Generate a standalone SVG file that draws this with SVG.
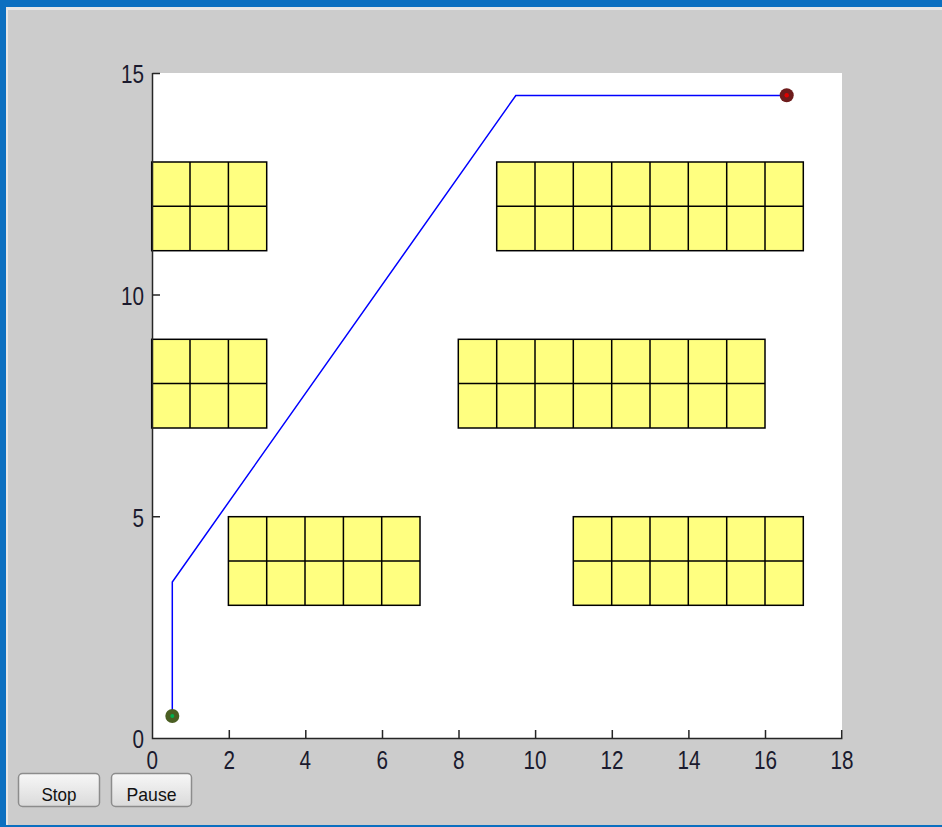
<svg xmlns="http://www.w3.org/2000/svg" width="942" height="827" viewBox="0 0 942 827">
<style>
.cell{fill:#ffff80;stroke:#000;stroke-width:1.5}
.grid{stroke:#000;stroke-width:1.5;fill:none}
.axis{stroke:#262626;stroke-width:1.5;fill:none}
.lbl{font-family:"Liberation Sans",Arial,sans-serif;font-size:26px;fill:#1a1a2e}
.btn{fill:url(#bg);stroke:#8c8c8c;stroke-width:1.5}
.btxt{font-family:"Liberation Sans",Arial,sans-serif;font-size:19px;fill:#111;text-anchor:middle}
</style>
<defs>
<linearGradient id="bg" x1="0" y1="0" x2="0" y2="1">
<stop offset="0" stop-color="#f7f7f7"/>
<stop offset="1" stop-color="#dadada"/>
</linearGradient>
</defs>
<rect x="0" y="0" width="942" height="827" fill="#0b6fc0"/>
<rect x="6" y="7" width="936" height="818" fill="#e6e6e6"/>
<rect x="8" y="10" width="934" height="815" fill="#cccccc"/>
<rect x="152" y="73" width="690" height="665" fill="#ffffff"/>

<g id="block1">
<rect class="cell" x="151.7" y="162" width="115" height="88.7"/>
<path class="grid" d="M190 162V250.7M228.4 162V250.7M151.7 206.3H266.7"/>
</g>
<g id="block2">
<rect class="cell" x="496.7" y="162" width="306.6" height="88.7"/>
<path class="grid" d="M535 162V250.7M573.3 162V250.7M611.7 162V250.7M650 162V250.7M688.3 162V250.7M726.7 162V250.7M765 162V250.7M496.7 206.3H803.3"/>
</g>
<g id="block3">
<rect class="cell" x="151.7" y="339.3" width="115" height="88.7"/>
<path class="grid" d="M190 339.3V428M228.4 339.3V428M151.7 383.6H266.7"/>
</g>
<g id="block4">
<rect class="cell" x="458.3" y="339.3" width="306.7" height="88.7"/>
<path class="grid" d="M496.7 339.3V428M535 339.3V428M573.3 339.3V428M611.7 339.3V428M650 339.3V428M688.3 339.3V428M726.7 339.3V428M458.3 383.6H765"/>
</g>
<g id="block5">
<rect class="cell" x="228.4" y="516.7" width="191.6" height="88.6"/>
<path class="grid" d="M266.7 516.7V605.3M305 516.7V605.3M343.4 516.7V605.3M381.7 516.7V605.3M228.4 561H420"/>
</g>
<g id="block6">
<rect class="cell" x="573.3" y="516.7" width="230" height="88.6"/>
<path class="grid" d="M611.7 516.7V605.3M650 516.7V605.3M688.3 516.7V605.3M726.7 516.7V605.3M765 516.7V605.3M573.3 561H803.3"/>
</g>

<g id="axes">
<path class="axis" d="M152.5 73V738.5H841.7V730"/>
<path class="axis" d="M152.5 73.5H160M152.5 295H160M152.5 516.7H160M229.3 738.5V730M305.8 738.5V730M382.5 738.5V730M459 738.5V730M535.6 738.5V730M612.3 738.5V730M688.9 738.5V730M765.5 738.5V730"/>
<g class="lbl" text-anchor="end">
<text x="144" y="82.5" textLength="23" lengthAdjust="spacingAndGlyphs">15</text>
<text x="144" y="304.5" textLength="23" lengthAdjust="spacingAndGlyphs">10</text>
<text x="144" y="526.5" textLength="11.5" lengthAdjust="spacingAndGlyphs">5</text>
<text x="144" y="747.5" textLength="11.5" lengthAdjust="spacingAndGlyphs">0</text>
</g>
<g class="lbl">
<text x="146.5" y="768.5" textLength="11.5" lengthAdjust="spacingAndGlyphs">0</text>
<text x="223.5" y="768.5" textLength="11.5" lengthAdjust="spacingAndGlyphs">2</text>
<text x="299.5" y="768.5" textLength="11.5" lengthAdjust="spacingAndGlyphs">4</text>
<text x="376.5" y="768.5" textLength="11.5" lengthAdjust="spacingAndGlyphs">6</text>
<text x="453" y="768.5" textLength="11.5" lengthAdjust="spacingAndGlyphs">8</text>
<text x="523.5" y="768.5" textLength="23" lengthAdjust="spacingAndGlyphs">10</text>
<text x="600.5" y="768.5" textLength="23" lengthAdjust="spacingAndGlyphs">12</text>
<text x="677.5" y="768.5" textLength="23" lengthAdjust="spacingAndGlyphs">14</text>
<text x="754" y="768.5" textLength="23" lengthAdjust="spacingAndGlyphs">16</text>
<text x="830.5" y="768.5" textLength="23" lengthAdjust="spacingAndGlyphs">18</text>
</g>
</g>

<g id="connectors">
<polyline points="172.3,716 172.3,582 515.8,95.5 786.5,95.5" fill="none" stroke="#0000ff" stroke-width="1.5"/>
</g>

<g id="start">
<circle cx="172.3" cy="716" r="7" fill="#4a5e22"/>
<circle cx="172.3" cy="716" r="2" fill="#00b04f"/>
</g>
<g id="goal">
<circle cx="786.7" cy="95.3" r="7" fill="#6e1c1c"/>
<circle cx="786.7" cy="95.3" r="2.2" fill="#e00000"/>
</g>

<g id="stop">
<rect class="btn" x="18.5" y="773.5" width="81" height="33" rx="4"/>
<text class="btxt" x="59" y="800.5" textLength="35" lengthAdjust="spacingAndGlyphs">Stop</text>
</g>
<g id="pause">
<rect class="btn" x="111.5" y="773.5" width="80" height="33" rx="4"/>
<text class="btxt" x="151.5" y="800.5" textLength="50" lengthAdjust="spacingAndGlyphs">Pause</text>
</g>
</svg>
